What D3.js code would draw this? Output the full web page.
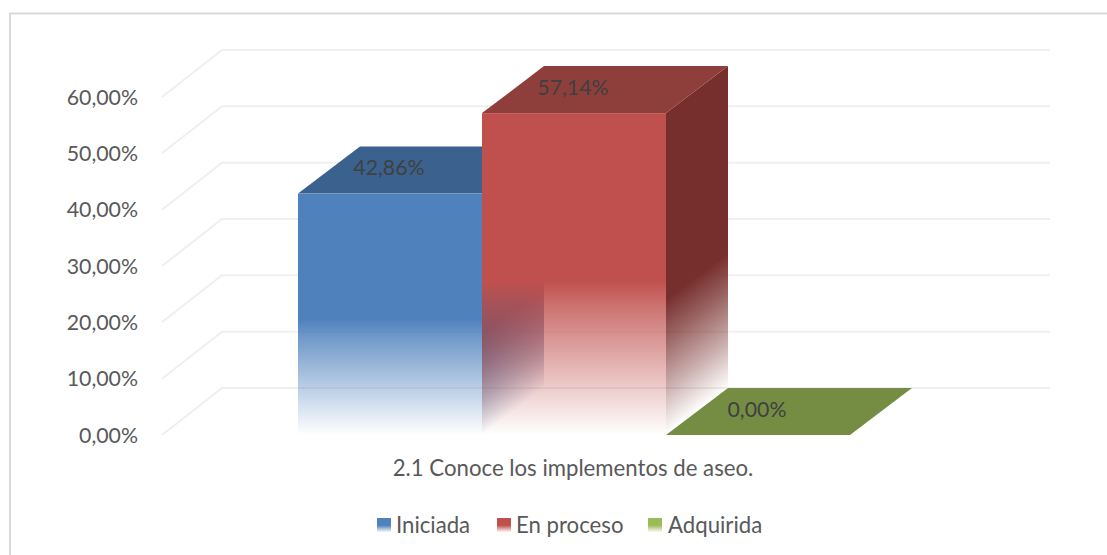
<!DOCTYPE html>
<html><head><meta charset="utf-8">
<script src="https://cdn.jsdelivr.net/npm/d3@7"></script>
<style>html,body{margin:0;padding:0;background:#fff}svg{display:block}text{font-family:Lato,sans-serif}</style>
</head><body><svg id="c" width="1107" height="555"></svg>
<script>
const categories = ["Iniciada","En proceso","Adquirida"];
const values = [42.86,57.14,0];
const valueLabels = ["42,86%","57,14%","0,00%"];
const ticks = [0,10,20,30,40,50,60];
const tickLabels = ["0,00%","10,00%","20,00%","30,00%","40,00%","50,00%","60,00%"];
const frontColors = ["#4f81bd","#c0504d","#9bbb59"];
const topColors = ["#3b618f","#8e3e3b","#758d43"];
const sideColors = ["#35598a","#772f2d","#5d7035"];
const title = "2.1 Conoce los implementos de aseo.";

const dx=62, dy=47;
const svg=d3.select("#c");
const defs=svg.append("defs");
const y=d3.scaleLinear().domain([0,60]).range([435,97]);
const x=d3.scaleBand().domain(categories).range([298,850]);

svg.append("path").attr("fill","none").attr("stroke","#d9d9d9").attr("stroke-width",2)
 .attr("d",d3.line()([[10,555],[10,13.5],[1107,13.5]]));

const gx0=162, gx1=222, gxEnd=1050;
svg.append("g").attr("fill","none").attr("stroke","#efefef").attr("stroke-width",2)
 .selectAll("path").data(ticks).join("path")
 .attr("d",t=>d3.line()([[gx0,y(t)],[gx1,y(t)-dy],[gxEnd,y(t)-dy]]));

svg.append("g").selectAll("text").data(ticks).join("text")
 .attr("x",138).attr("y",t=>y(t)).attr("dy","0.36em").attr("text-anchor","end")
 .attr("font-size",21.3).attr("fill","#595959").text((t,i)=>tickLabels[i]);

const frontStops=[[0,1],[0.52,1],[0.6,0.8],[0.75,0.5],[0.9,0.2],[1,0]];
const sideStops=[[0,1],[0.58,1],[0.7,0.75],[0.85,0.4],[1,0]];
function grad(id,color,stops,x1,y1,x2,y2,tf){
  const g=defs.append("linearGradient").attr("id",id).attr("gradientUnits","userSpaceOnUse")
   .attr("x1",x1).attr("y1",y1).attr("x2",x2).attr("y2",y2);
  if(tf) g.attr("gradientTransform",tf);
  stops.forEach(([o,a])=>g.append("stop").attr("offset",o).attr("stop-color",color).attr("stop-opacity",a));
}
const bars=svg.append("g");
categories.forEach((c,i)=>{
  const x0=x(c),x1=x0+x.bandwidth(),yt=y(values[i]),yb=y(0);
  if(values[i]>0){
    grad("f"+i,frontColors[i],frontStops,0,yt,0,yb);
    const s=-dy/dx;
    grad("s"+i,sideColors[i],sideStops,0,yt,0,yb,`matrix(1,${s},0,1,0,${-s*x1})`);
    bars.append("path").attr("fill","url(#s"+i+")").attr("d",d3.line()([[x1,yt],[x1+dx,yt-dy],[x1+dx,yb-dy],[x1,yb]]));
    bars.append("path").attr("fill",topColors[i]).attr("d",d3.line()([[x0,yt],[x0+dx,yt-dy],[x1+dx,yt-dy],[x1,yt]]));
    bars.append("rect").attr("x",x0).attr("y",yt).attr("width",x1-x0).attr("height",yb-yt).attr("fill","url(#f"+i+")");
  } else {
    bars.append("path").attr("fill",topColors[i]).attr("d",d3.line()([[x0,yt],[x0+dx,yt-dy],[x1+dx,yt-dy],[x1,yt]]));
  }
});
svg.append("g").selectAll("text").data(categories).join("text")
 .attr("x",c=>x(c)+x.bandwidth()/2-1).attr("y",(c,i)=>y(values[i])-dy/2-2.5)
 .attr("dy","0.36em").attr("text-anchor","middle").attr("font-size",21.3).attr("fill","#404040")
 .text((c,i)=>valueLabels[i]);

svg.append("text").attr("x",573).attr("y",468).attr("dy","0.36em").attr("text-anchor","middle")
 .attr("font-size",22.2).attr("fill","#595959").text(title);

const legX=[377,497,648], txtX=[396,516,668];
categories.forEach((c,i)=>{
  const g=defs.append("linearGradient").attr("id","l"+i).attr("x1",0).attr("y1",0).attr("x2",0).attr("y2",1);
  [[0,1],[0.52,1],[1,0.05]].forEach(([o,a])=>g.append("stop").attr("offset",o).attr("stop-color",frontColors[i]).attr("stop-opacity",a));
  svg.append("rect").attr("x",legX[i]).attr("y",518).attr("width",14).attr("height",14).attr("fill","url(#l"+i+")");
  svg.append("text").attr("x",txtX[i]).attr("y",525).attr("dy","0.36em").attr("font-size",22.2).attr("fill","#595959").text(c);
});
</script></body></html>
